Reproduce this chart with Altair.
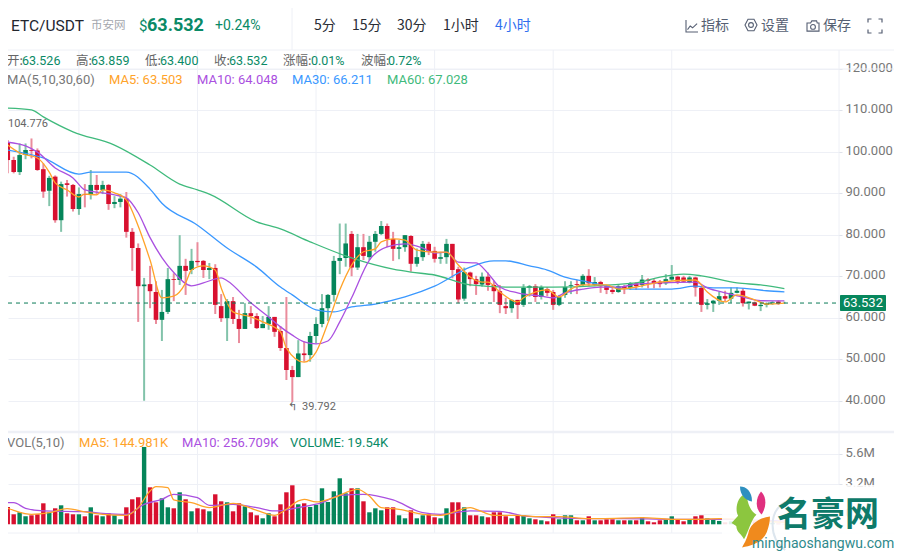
import altair as alt
import pandas as pd

opens = [101.9,97.7,94.8,98.9,100.1,100,95.5,90.3,93.7,83.2,92.1,91.7,85.9,89.5,89.5,91.7,90.5,91.7,87.1,87.6,
 88.4,80.4,76.5,67.3,67.8,65.9,59.2,61.1,69,68.8,72.2,71.2,73.4,73.4,71.2,71.7,62.5,59.6,63.7,59.4,
 57,60.8,60.1,57.2,58.2,59.9,56.5,52.4,47.1,45.4,51.1,50.7,55.3,58.2,62,65.2,73.4,74.1,79.9,71.8,
 76.7,74.3,78,79.9,81.8,78.7,76.3,76.7,79.4,72.7,74.3,77.5,75.8,73.9,74.3,77.5,71.4,64.3,70.6,69,
 67.7,69.6,67.6,66.1,62.5,62,64,62.8,66.9,67.3,64.7,66.6,65.9,62.8,65.2,67.4,67.8,67.6,69.8,67.6,
 68.3,67.3,66.4,65.9,67.3,66.9,68,67.6,68.9,68.6,68.4,68,68.9,69.6,69.4,68.2,69.4,66.9,62.8,63.2,
 63.8,64.9,64.3,65.7,66.2,63.2,63.4,62.5,62.8,63.2,63.6,63.526]
closes = [97.7,94.8,98.9,100.1,99.9,95.3,90.1,93.4,83.2,91.9,91.7,85.9,89.5,89.3,91.7,90.5,91.7,87.1,87.6,88.4,
 80.4,76.5,67.3,67.7,66.1,59.2,61.1,69,68.8,72.2,71,73.4,73.1,71.2,71.7,62.8,59.6,63.7,59.4,57,
 60.8,60.1,57.2,58.2,59.9,56.3,52.4,47.1,45.4,51.1,50.7,55.3,58.2,62,65.2,73.4,74.1,77.6,71.8,76.7,
 74.6,78,79.9,81.8,78.7,76.3,76.7,79.6,72.7,74.3,77.5,75.6,73.9,74.3,77.5,71.2,64.1,70.7,69,67.8,
 69.6,67.6,66.1,62.8,62,64,62.8,66.9,67.3,64.7,67.1,65.7,62.8,64.7,67.1,67.6,67.6,69.8,68,68.3,
 67.3,66.4,65.9,67.3,66.6,68,67.3,68.9,68.6,68,67.8,69,69.6,68.4,68.4,69.4,67,62.8,63.2,63.8,
 64.9,64.3,65.7,66.2,63.2,63.6,62.6,62.8,63.2,63.4,63.2,63.532]
highs = [102.5,98.5,101.7,101.7,102.9,100.5,96.9,93.9,94,92.5,92.9,91.9,91.1,91.9,95.3,94.1,92.7,91.9,89,89.5,
 90,81.3,77.6,69.3,72.2,68.5,66.4,71.7,70.4,79.6,73.9,76.3,77.9,73.6,72.9,72.6,65.4,64.2,64.7,61.6,
 63.2,62.5,60.8,60.1,62.5,59.9,57.7,64.7,48.1,54.3,54,56.3,59.8,65.4,65.4,74.6,82.4,82.4,80.6,79.9,
 79.9,79.4,80.6,83,82.4,80.4,78.4,79.6,79.6,76.4,78.2,78,76.8,75.6,78.7,77.5,72,71.8,70.8,69.8,
 70.6,70.6,68.6,67.6,64.5,64.1,64,67.8,67.6,67.8,67.5,67.1,66.4,65.2,68.5,68.5,68.8,70.2,71.4,69.5,
 68.6,67.6,67.3,67.6,67.6,68.3,68.3,70,69.2,69,68.8,70.2,72.4,69.8,69.8,69.8,69.6,67.4,64.2,64,
 66,66.2,67,67,66.8,63.6,63.6,63.4,63.4,63.7,63.9,63.859]
lows = [94.5,94.5,94.1,97.9,98.1,95.1,88.6,86.6,82.6,80.4,88.9,85.3,84.5,86.3,88.2,89.3,89.5,85.7,86.1,86.3,
 79,71,58.7,39.7,62,58.2,54.1,60.6,63.7,67.6,65.2,70.2,72.2,69.3,69,60.6,58.7,54.1,58.2,53.6,
 57,58.2,57,57.2,56.8,55.1,51.7,44.7,39.4,45.4,49.1,49.1,53.5,57.4,58.9,63.6,70.2,72,69.7,71.2,
 73.6,73.6,75.6,79.6,76.7,73.4,73.8,75.6,70.8,72,73.4,74.8,73,72.7,72.7,69.2,63.2,63.8,67.3,65.2,
 67.2,66.2,63.5,60.8,60.6,60.9,59.4,62.3,64.8,63.5,64.1,64.9,61.6,62.5,64.5,65.4,65.4,67.3,67.3,67.3,
 65.7,65.4,65.4,65.7,65.4,66.4,66.4,67,66.8,66.8,67,67.6,68.6,67.8,68.2,68,64.8,61.1,61.7,61.1,
 62.8,63.6,63.3,65.6,62.4,61.7,62.5,61.3,62.2,62.8,62.8,63.4]
volumes = [1387,800,960,640,720,800,1680,960,1280,1520,880,800,800,640,1360,720,640,880,720,400,
 1360,2000,2160,6190,2960,1760,2080,1360,1280,2560,2000,1040,1280,1200,1040,2400,1840,1760,1040,1680,
 1440,960,720,480,880,640,1600,2560,3120,1600,1680,1387,1547,2880,1787,2640,3680,2480,2880,2880,
 1840,960,1280,1120,1360,1360,720,480,1120,480,720,800,560,480,1280,1760,1760,1360,720,720,
 640,560,960,960,640,480,720,720,480,400,320,240,800,400,720,720,320,320,640,320,
 320,400,400,320,320,320,320,560,240,160,320,400,640,400,240,400,640,720,480,400,
 270,160,240,200,480,320,240,160,160,120,60,19.54]

ma60_i = [0,4,6,11,18,24,29,32,34,42,46,51,58,65,68,72,78,84,92,106,110,114,117,123,127,131]
ma60_v = [110.2,109.8,108.1,104.5,101.3,96.5,91.9,90.5,89.5,82.8,81.1,78,74.1,71.4,70.7,70,67.6,67.1,67.1,68.1,69.5,70.2,69.8,68.1,67.6,67.03]
ma30_i = [0,6,12,14,20,24,26,32,37,42,46,48,52,55,58,62,67,72,78,82,84,88,91,94,98,102,106,112,116,119,123,128,131]
ma30_v = [100.1,98.2,94.3,94.8,94.8,90.7,87.3,82,76.5,71.9,67.1,65.2,61.6,61.1,62.3,63,64.7,67.3,71.9,73.4,73.4,72.2,71.2,69.5,68.3,67.1,66.6,66.6,67.3,66.9,66.9,66.2,66.21]
ma10_i = [0,3,5,8,11,13,16,18,20,22,24,26,28,31,33,36,37,41,44,46,48,50,52,54,56,58,61,64,67,70,72,74,76,79,81,83,86,90,92,94,97,100,103,106,110,116,118,121,124,127,131]
ma10_v = [102,101.1,99.6,95.8,93.4,90.5,89.8,89.3,88.6,85,79,74.2,70.6,67.4,68.1,69.3,68.6,63.3,59.9,57.5,55.5,53.9,53.4,54.1,58.7,64.5,73.6,76.8,77.5,76.5,75.3,75.5,73.1,72.9,70.4,67.1,65.7,64.9,64.5,65.7,66.6,67.1,67.1,67.8,68.1,68.3,66.9,65.7,64.7,63.8,64.05]
ma5_i = [0,2,5,7,8,10,12,13,15,16,18,20,22,24,26,28,30,31,33,35,36,38,41,43,46,47,50,52,54,56,58,60,62,63,65,67,69,72,74,76,78,80,81,83,86,87,91,93,95,97,101,103,106,110,116,118,121,123,126,128,131]
ma5_v = [101.3,99.4,98.2,94.8,92.2,90.5,88.8,89.5,89.3,90.5,89.8,88.1,81.8,73.6,64.5,64.9,68.1,71.2,72.2,71.2,66.9,61.1,59.9,58.7,56.3,52.4,49,51.4,58.4,66.4,72.4,75.6,76.3,78,78.7,78.4,76,75.5,75.5,72.4,69.5,68.3,68.3,65.9,63.5,64.5,66.4,64.7,66.6,67.6,67.6,66.6,67.1,68.3,68.8,65.9,63.5,65.2,64,63,63.5]
vma5_i = [0,1,4,7,10,13,16,20,22,24,25,27,28,31,34,38,42,45,47,49,50,52,55,59,61,63,66,70,73,78,79,82,86,89,93,98,100,107,112,116,120,126,131]
vma5_v = [1280,1120,800,933,1253,987,800,720,1333,2667,3013,2933,1947,1733,1333,1680,1120,720,1200,1867,2000,1787,2133,2800,2267,1333,1200,800,720,1333,1200,720,720,613,613,453,453,533,400,400,450,300,145]
vma10_i = [0,1,3,6,13,16,20,23,26,28,32,34,38,42,45,49,50,53,56,60,65,70,73,78,83,87,92,98,104,112,120,131]
vma10_v = [1733,1733,1280,1067,1013,880,800,1600,2000,2400,2133,1520,1600,1333,1067,1333,1413,1733,2320,2400,1947,933,800,1067,1040,667,533,453,453,400,400,257]

tick_idx = [12,32,52,72,92,112]
tick_lab = ["05-18","05-21","05-24","05-28","05-31","2021-06"]
price_ticks = [40,50,60,70,80,90,100,110,120]
vol_ticks = [800,3200,5600]
LAST = 63.532

# The readings above were taken against a price axis placed about 1 px too high.
READ_CORRECTION = 0.29
def corrected(values):
    return [round(v + READ_CORRECTION, 3) for v in values[:-1]] + [values[-1]]

RED, GREEN = "#d8102f", "#05855a"
WICK_R, WICK_G = "#ea8c9c", "#82c3aa"
ORANGE, PURPLE, BLUE, MGREEN = "#ffa329", "#aa50e0", "#3a98ff", "#3fba7c"
GRID = "#eef0f6"
FONT = "Roboto, 'Noto Sans CJK SC', sans-serif"
CJK = "'Noto Sans CJK SC', Roboto, sans-serif"

W, H = 830, 525
xs = alt.Scale(domain=[0.883, 139.2], nice=False, zero=False)
x_enc = alt.X("i:Q", scale=xs, axis=None)
px = alt.Scale(domain=[8.12, 134.627], nice=False, zero=False)
vs = alt.Scale(domain=[-696, 41304], nice=False, zero=False)

candles = pd.DataFrame({"i": range(len(opens)), "o": corrected(opens), "c": corrected(closes),
                        "h": corrected(highs), "l": corrected(lows), "v": volumes})
candles["d"] = ["up" if c >= o else "down" for o, c in zip(opens, closes)]
body_col = alt.Color("d:N", scale=alt.Scale(domain=["up", "down"], range=[GREEN, RED]), legend=None)
wick_col = alt.Color("d:N", scale=alt.Scale(domain=["up", "down"], range=[WICK_G, WICK_R]), legend=None)
one = pd.DataFrame({"a": [0]})
ticks_df = pd.DataFrame({"i": tick_idx})

label_map = "{" + ",".join(f"{i}:'{t}'" for i, t in zip(tick_idx, tick_lab)) + "}"

def P(v): return alt.value(v)

def text(s, x, y, size=13, color="#666", font=FONT, weight="normal", align="left"):
    return alt.Chart(one).mark_text(fontSize=size, font=font, fontWeight=weight, align=align, baseline="middle", color=color).encode(
        x=P(x - 8), y=P(y - 8), text=alt.value(s))

def hline(y, x0=-8, x1=886, w=1, color=GRID):
    return alt.Chart(one).mark_rule(color=color, strokeWidth=w).encode(x=P(x0), x2=P(x1), y=P(y - 8))

def vline(x, y0, y1, w=1, color=GRID):
    return alt.Chart(one).mark_rule(color=color, strokeWidth=w).encode(x=P(x - 8), y=P(y0 - 8), y2=P(y1 - 8))

def icon(path, x, y, size, color="#5b6478", filled=False, sw=1.2):
    return alt.Chart(one).mark_point(shape=path, size=size * size, filled=filled, color=color, opacity=1,
                                     strokeWidth=(0 if filled else sw)).encode(x=P(x - 8), y=P(y - 8))

def ma(i_list, v_list, color, scale):
    d = pd.DataFrame({"i": i_list, "v": v_list})
    return alt.Chart(d).mark_line(color=color, strokeWidth=1.3, interpolate="monotone", clip=True).encode(
        x=x_enc, y=alt.Y("v:Q", scale=scale, axis=None))

grid_v = alt.Chart(ticks_df).mark_rule(color=GRID).encode(x=x_enc, y=P(42), y2=P(525))

wicks = alt.Chart(candles).mark_rule(strokeWidth=2).encode(
    x=alt.X("i:Q", scale=xs, axis=alt.Axis(
        orient="bottom", values=tick_idx, labelExpr=label_map + "[datum.value]", title=None, grid=False, domain=False,
        tickColor=GRID, tickSize=4, labelColor="#666", labelFontSize=13, labelFont=FONT, labelPadding=2, labelBaseline="middle",
        labelOverlap=False, labelFlush=False)),
    y=alt.Y("l:Q", scale=px, axis=alt.Axis(
        orient="right", values=price_ticks, format=".3f", title=None, grid=True, gridColor=GRID, domain=False,
        tickColor="#dfe2ea", tickSize=4, labelColor="#777", labelFontSize=13, labelFont=FONT, labelPadding=3, labelOffset=-1.5)),
    y2="h:Q", color=wick_col)
bodies = alt.Chart(candles).mark_bar(size=4.6, orient="vertical").encode(
    x=x_enc, y=alt.Y("o:Q", scale=px, axis=None), y2="c:Q", color=body_col)

vol_bars = alt.Chart(candles).mark_bar(size=4.4, orient="vertical").encode(
    x=x_enc,
    y=alt.Y("v:Q", scale=vs, stack=None, axis=alt.Axis(
        orient="right", values=vol_ticks, labelExpr="datum.value/1000 + 'M'", title=None, grid=True, gridColor=GRID, domain=False,
        tickColor="#dfe2ea", tickSize=4, labelColor="#777", labelFontSize=13, labelFont=FONT, labelPadding=3, labelOffset=-2)),
    y2=alt.datum(0), color=body_col)

last_line = alt.Chart(pd.DataFrame({"v": [LAST]})).mark_rule(color="#0a7a57", strokeDash=[4, 4], strokeWidth=1).encode(
    x=P(-8), x2=P(830), y=alt.Y("v:Q", scale=px, axis=None))
last_box = alt.Chart(pd.DataFrame({"a": [65.45], "b": [61.6]})).mark_rect(color="#07875d", cornerRadius=1).encode(
    x=P(832), x2=P(878), y=alt.Y("a:Q", scale=px, axis=None), y2="b:Q")
last_txt = alt.Chart(pd.DataFrame({"v": [LAST], "t": [f"{LAST:.3f}"]})).mark_text(color="white", fontSize=13, font=FONT, align="center", baseline="middle").encode(
    x=P(855), y=alt.Y("v:Q", scale=px, axis=None), text="t:N")

layers = [
    grid_v,
    hline(50), hline(69), hline(432, w=2.5), hline(533),
    vline(292, 8, 50), vline(839, 50, 533),
    wicks, bodies, vol_bars,
    ma(ma60_i, corrected(ma60_v), MGREEN, px), ma(ma30_i, corrected(ma30_v), BLUE, px),
    ma(ma10_i, corrected(ma10_v), PURPLE, px), ma(ma5_i, corrected(ma5_v), ORANGE, px),
    ma(vma10_i, vma10_v, PURPLE, vs), ma(vma5_i, vma5_v, ORANGE, vs),
    last_line, last_box, last_txt,
    # header
    text("ETC/USDT", 11, 26, 15.5, "#23262e"),
    text("币安网", 91, 26, 11.5, "#a3a6ad", CJK),
    text("$", 139, 26, 15, "#0a8a66"),
    text("63.532", 147, 26, 18, "#0a8a66", weight="bold"),
    text("+0.24%", 215, 26, 14, "#0a8a66"),
    text("5分", 314, 26, 14, "#2a2d35", CJK),
    text("15分", 352, 26, 14, "#2a2d35", CJK),
    text("30分", 397, 26, 14, "#2a2d35", CJK),
    text("1小时", 443, 26, 14, "#2a2d35", CJK),
    text("4小时", 495, 26, 14, "#2f6fef", CJK),
    icon("M-1,-1 L-1,1 L1,1 M-0.75,0.6 L-0.3,0 L0.1,0.3 L0.85,-0.4", 692, 26, 12, "#565f73", sw=1.1),
    text("指标", 701, 26, 14, "#565f73", CJK),
    icon("M-0.5,-0.95 L0.5,-0.95 L1,0 L0.5,0.95 L-0.5,0.95 L-1,0 Z M0.4,0 A0.4,0.4 0 1 1 -0.4,0 A0.4,0.4 0 1 1 0.4,0", 751, 25, 12, "#565f73", sw=1.1),
    text("设置", 761, 26, 14, "#565f73", CJK),
    icon("M-1,-0.5 L-0.4,-0.5 L-0.2,-0.85 L0.6,-0.85 L0.7,-0.5 L1,-0.5 L1,0.85 L-1,0.85 Z M0.4,0.15 A0.4,0.4 0 1 1 -0.4,0.15 A0.4,0.4 0 1 1 0.4,0.15", 813, 26, 12, "#565f73", sw=1.1),
    text("保存", 823, 26, 14, "#565f73", CJK),
    icon("M-1,-0.5 L-1,-1 L-0.5,-1 M0.5,-1 L1,-1 L1,-0.5 M1,0.5 L1,1 L0.5,1 M-0.5,1 L-1,1 L-1,0.5", 875, 26, 14, "#565f73", sw=1.2),
    # OHLC row
    text("开:", 7, 61, 12.5, "#666", CJK), text("63.526", 22, 61, 12.5, "#0a8a66"),
    text("高:", 76, 61, 12.5, "#666", CJK), text("63.859", 91, 61, 12.5, "#0a8a66"),
    text("低:", 145, 61, 12.5, "#666", CJK), text("63.400", 160, 61, 12.5, "#0a8a66"),
    text("收:", 214, 61, 12.5, "#666", CJK), text("63.532", 229, 61, 12.5, "#0a8a66"),
    text("涨幅:", 283, 61, 12.5, "#666", CJK), text("0.01%", 311, 61, 12.5, "#0a8a66"),
    text("波幅:", 361, 61, 12.5, "#666", CJK), text("0.72%", 388, 61, 12.5, "#0a8a66"),
    # MA row
    text("MA(5,10,30,60)", 7, 80, 13, "#777"),
    text("MA5: 63.503", 109, 80, 13, ORANGE),
    text("MA10: 64.048", 197, 80, 13, PURPLE),
    text("MA30: 66.211", 292, 80, 13, BLUE),
    text("MA60: 67.028", 387, 80, 13, MGREEN),
    # annotations
    text("104.776", 8, 124, 11, "#666"),
    text("↰", 288, 407, 11, "#666", "DejaVu Sans"),
    text("39.792", 302, 407, 11, "#666"),
    # volume row
    text("VOL(5,10)", 7, 443, 13, "#777"),
    text("MA5: 144.981K", 79, 443, 13, ORANGE),
    text("MA10: 256.709K", 182, 443, 13, PURPLE),
    text("VOLUME: 19.54K", 290, 443, 13, "#0a8a66"),
    # watermark
    alt.Chart(one).mark_rect(color="white", opacity=0.88).encode(x=P(714), x2=P(886), y=P(477), y2=P(544)),
    icon("M0.3,-1 C-0.4,-0.6 -0.4,0.5 0.3,1", 778, 526, 48, "#dde6ee", sw=2),
    icon("M0.1,-1 C-0.3,-0.9 -0.4,-0.3 -0.25,-0.05 L-0.53,0.25 L-0.33,0.38 C-0.3,0.7 -0.1,0.7 0,0.95 C0.2,0.6 0.3,0.1 0.53,-0.1 C0.2,-0.3 0.15,-0.7 0.1,-1Z", 744, 517, 47, "#8cc63f", filled=True),
    icon("M0.9,-1 C0.2,-0.9 -0.4,-0.5 -0.5,0.1 C-0.6,0.5 -0.8,0.8 -0.9,1 C-0.3,0.9 0.4,0.7 0.7,0 C0.85,-0.4 0.9,-0.7 0.9,-1Z", 756, 532, 31, "#f08a1d", filled=True),
    icon("M0,-1 C0.5,-0.5 0.5,0.3 0.05,1 C-0.5,0.5 -0.5,-0.4 0,-1Z", 761, 503, 23, "#e0307f", filled=True),
    icon("M-0.8,-1 C0,-1 0.8,-0.4 0.8,1 C0,0.9 -0.8,0.2 -0.8,-1Z", 746, 494, 15, "#2d8fbf", filled=True),
    text("名豪网", 777, 516, 34, "#0e7a6a", CJK, "bold"),
    text("minghaoshangwu.com", 752, 544, 14, "#2f8a8c"),
]

chart = (
    alt.layer(*layers)
    .resolve_scale(y="independent", color="independent")
    .properties(width=W, height=H, padding={"left": 0, "top": 0, "right": 56, "bottom": 19},
                autosize=alt.AutoSizeParams(type="none"), background="white")
    .configure_view(strokeWidth=0)
)
chart.save("out.html", embed_options={"renderer": "svg", "actions": False})
